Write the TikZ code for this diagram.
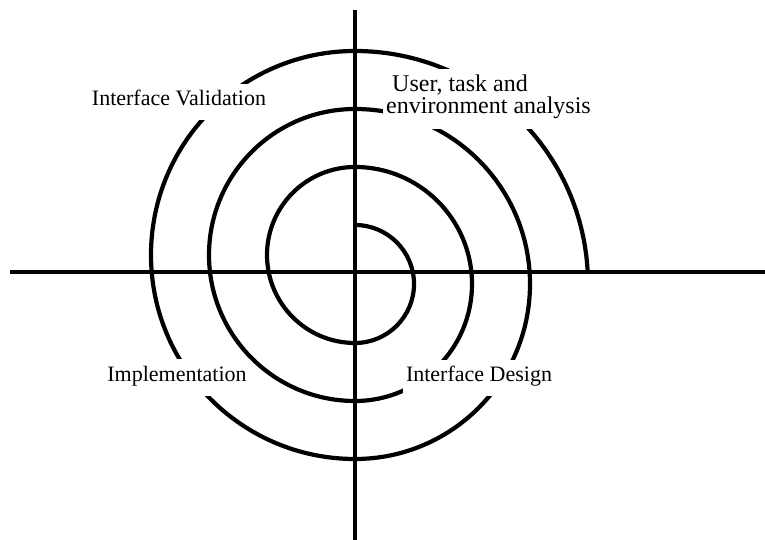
\documentclass[tikz,border=0pt]{standalone}
\usepackage{fontspec}
\setmainfont{Liberation Serif}
\usetikzlibrary{calc}
\begin{document}
\begin{tikzpicture}[x=1pt,y=1pt,
  axis/.style={line width=4.2pt},
  spiral/.style={line width=4.2pt},
  lbl/.style={fill=white, inner xsep=3pt, inner ysep=6.5pt, text height=15.5pt, text depth=8pt, font=\fontsize{22}{22}\selectfont}]
\useasboundingbox (0,0) rectangle (765,540);
\coordinate (O) at (355,268);
\coordinate (L) at (10,268);
\coordinate (R) at (765,268);
\coordinate (T) at (355,530);
\coordinate (B) at (355,0);
\draw[axis] (L) -- (R);
\draw[axis] (T) -- (B);
\draw[spiral] ($(O)+(0,47)$)
  arc[start angle=90,end angle=-90,radius=59]
  arc[start angle=-90,end angle=-270,radius=88]
  arc[start angle=90,end angle=-90,radius=117]
  arc[start angle=-90,end angle=-270,radius=146]
  arc[start angle=90,end angle=-90,radius=175]
  arc[start angle=-90,end angle=-270,radius=204]
  arc[start angle=90,end angle=2.95,radius=233];
\node[lbl, anchor=base] (iv) at (179,434) {Interface Validation};
\node[lbl, anchor=base] (im) at (177,158.5) {Implementation};
\node[lbl, anchor=base] (id) at (479,158) {Interface Design};
\node[fill=white, inner xsep=3pt, inner ysep=5pt, anchor=west, align=left, font=\fontsize{24}{22}\selectfont] (ut) at (383,440.7) {\hspace*{6pt}User, task and\\environment analysis\rule[-11pt]{0pt}{11pt}};
\end{tikzpicture}
\end{document}
